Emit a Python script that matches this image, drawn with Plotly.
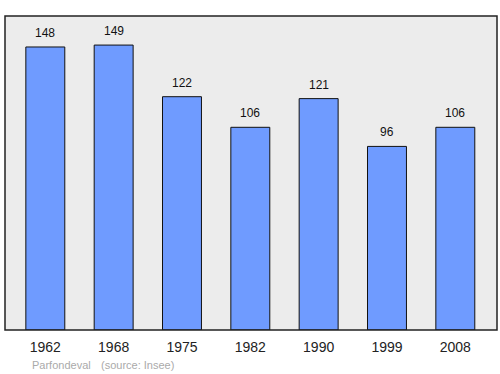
import plotly.graph_objects as go

years = ["1962", "1968", "1975", "1982", "1990", "1999", "2008"]
population = [148, 149, 122, 106, 121, 96, 106]

fig = go.Figure()
fig.add_trace(go.Bar(
    x=list(range(len(years))), y=population,
    width=0.57,
    marker=dict(color="#6f9bff", line=dict(color="#111111", width=1)),
    hoverinfo="skip",
))

for i, v in enumerate(population):
    fig.add_annotation(x=i, y=v, text=str(v), showarrow=False,
                       yanchor="middle", yshift=14,
                       font=dict(family="Liberation Sans, Arial", size=12, color="#111111"))

fig.add_annotation(xref="paper", yref="paper", x=0.05, y=-0.11, text="Parfondeval",
                   showarrow=False, xanchor="left", yanchor="middle",
                   font=dict(family="Liberation Sans, Arial", size=11, color="#aaaaaa"))
fig.add_annotation(xref="paper", yref="paper", x=0.192, y=-0.11, text="(source: Insee)",
                   showarrow=False, xanchor="left", yanchor="middle",
                   font=dict(family="Liberation Sans, Arial", size=11, color="#aaaaaa"))

fig.add_shape(type="rect", xref="paper", yref="paper", x0=0, x1=1, y0=0, y1=1,
              line=dict(color="#222222", width=1.5), layer="above")

fig.update_layout(
    width=500, height=374,
    margin=dict(l=5, r=3, t=16, b=44),
    paper_bgcolor="white", plot_bgcolor="#ececec",
    showlegend=False,
    xaxis=dict(range=[-0.59, 6.61], tickmode="array", tickvals=list(range(len(years))),
               ticktext=years, showgrid=False, zeroline=False,
               ticks="outside", ticklen=4, tickcolor="rgba(0,0,0,0)",
               tickfont=dict(family="Liberation Sans, Arial", size=14, color="#222222")),
    yaxis=dict(range=[0, 164.2], showgrid=False, zeroline=False, showticklabels=False, ticks=""),
)

fig.write_html("out.html")
